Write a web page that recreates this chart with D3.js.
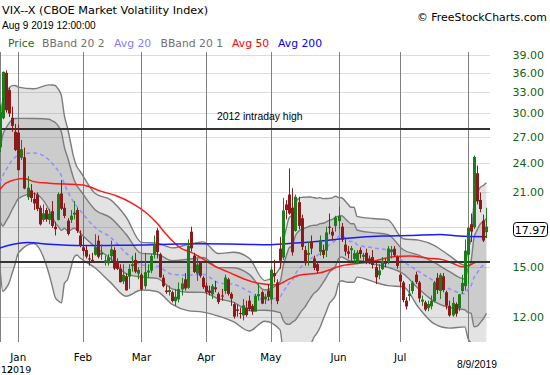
<!DOCTYPE html>
<html>
<head>
<meta charset="utf-8">
<script src="https://cdn.jsdelivr.net/npm/d3@7"></script>
<style>
  body { margin: 0; background: #fff; }
  svg { display: block; }
  text { font-family: "DejaVu Sans", sans-serif; }
</style>
</head>
<body>
<svg></svg>
<script>
const width = 550;
const height = 375;

// trading days shown (Dec 2018 .. Aug 9 2019)
const dates = [
  "12-21","12-24","12-26","12-27","12-28","12-31",
  "01-02","01-03","01-04","01-07","01-08","01-09","01-10","01-11","01-14","01-15","01-16","01-17","01-18","01-22","01-23","01-24","01-25","01-28","01-29","01-30","01-31",
  "02-01","02-04","02-05","02-06","02-07","02-08","02-11","02-12","02-13","02-14","02-15","02-19","02-20","02-21","02-22","02-25","02-26","02-27","02-28",
  "03-01","03-04","03-05","03-06","03-07","03-08","03-11","03-12","03-13","03-14","03-15","03-18","03-19","03-20","03-21","03-22","03-25","03-26","03-27","03-28","03-29",
  "04-01","04-02","04-03","04-04","04-05","04-08","04-09","04-10","04-11","04-12","04-15","04-16","04-17","04-18","04-22","04-23","04-24","04-25","04-26","04-29","04-30",
  "05-01","05-02","05-03","05-06","05-07","05-08","05-09","05-10","05-13","05-14","05-15","05-16","05-17","05-20","05-21","05-22","05-23","05-24","05-28","05-29","05-30","05-31",
  "06-03","06-04","06-05","06-06","06-07","06-10","06-11","06-12","06-13","06-14","06-17","06-18","06-19","06-20","06-21","06-24","06-25","06-26","06-27","06-28",
  "07-01","07-02","07-03","07-05","07-08","07-09","07-10","07-11","07-12","07-15","07-16","07-17","07-18","07-19","07-22","07-23","07-24","07-25","07-26","07-29","07-30","07-31",
  "08-01","08-02","08-05","08-06","08-07","08-08","08-09"
];

const opens = [
  25.8, 29.4, 36.0, 33.3, 29.4, 27.6,
  27.5, 24.6, 24.6, 20.6, 21.2, 20.4, 20.8, 19.6, 18.6, 19.4, 18.6, 19.3, 18.0, 18.6, 20.9, 19.6, 18.5, 18.6, 19.1, 19.4, 17.3,
  16.4, 16.2, 15.6, 15.5, 15.9, 16.9, 15.9, 15.4, 15.3, 15.8, 16.2, 15.4, 14.9, 14.1, 14.4, 14.4, 15.1, 15.5, 14.6,
  14.5, 13.8, 14.7, 14.8, 15.9, 17.7, 15.9, 14.3, 13.5, 13.5, 13.4, 12.9, 13.0, 13.6, 14.2, 13.7, 17.6, 15.8, 14.6, 15.3, 14.3,
  13.8, 13.5, 13.3, 13.7, 13.3, 13.2, 13.5, 14.2, 13.3, 12.7, 12.4, 12.2, 12.1, 12.5, 12.9, 12.6, 12.3, 13.2, 13.4, 13.0, 13.5,
  13.0, 14.6, 14.0, 16.3, 15.7, 19.9, 20.8, 19.6, 17.7, 20.1, 18.7, 16.2, 15.9, 16.8, 15.6, 15.2, 16.1, 16.2, 16.2, 18.0, 17.6, 18.1,
  18.5, 18.0, 16.6, 16.1, 16.3, 15.6, 15.3, 16.2, 15.8, 16.0, 15.6, 15.7, 15.0, 14.5, 14.9, 15.3, 15.4, 16.1, 16.3, 15.7,
  14.5, 14.0, 12.9, 13.2, 13.5, 14.5, 14.0, 12.9, 12.8, 12.5, 12.6, 12.9, 14.3, 13.5, 14.4, 13.4, 12.6, 12.1, 12.7, 12.5, 13.5, 13.8,
  15.9, 18.2, 18.0, 22.9, 20.3, 18.5, 17.6
];

const highs = [
  31.2, 36.2, 36.4, 33.7, 30.9, 28.6,
  28.5, 26.6, 25.7, 22.6, 21.8, 21.0, 21.0, 19.8, 19.9, 19.6, 19.5, 20.2, 18.4, 21.0, 22.2, 20.0, 18.7, 19.4, 20.2, 19.6, 17.7,
  17.2, 16.5, 15.9, 16.0, 17.4, 17.3, 16.6, 15.8, 15.9, 16.9, 16.4, 15.6, 15.2, 15.2, 14.6, 15.2, 15.8, 16.0, 15.0,
  14.6, 16.0, 15.2, 15.9, 17.3, 17.9, 16.0, 14.5, 13.8, 13.8, 13.5, 13.6, 14.0, 14.3, 14.6, 17.0, 18.0, 16.0, 15.6, 15.4, 14.4,
  14.0, 13.8, 13.9, 14.1, 13.4, 13.6, 14.5, 14.3, 13.4, 12.8, 12.7, 12.5, 13.0, 12.9, 13.2, 12.7, 13.3, 13.9, 13.5, 13.3, 13.9,
  15.0, 15.5, 14.2, 17.2, 20.5, 20.3, 23.4, 21.4, 20.8, 20.6, 19.0, 16.5, 16.8, 17.3, 15.8, 15.3, 17.3, 16.6, 18.0, 19.1, 17.9, 18.9,
  19.7, 18.3, 17.0, 16.5, 16.5, 16.2, 16.2, 16.4, 16.0, 16.3, 15.8, 16.2, 15.3, 15.2, 15.7, 15.6, 16.5, 16.5, 16.5, 15.8,
  14.6, 14.1, 13.1, 13.9, 14.1, 14.7, 14.1, 13.2, 12.9, 12.9, 13.2, 14.1, 14.6, 14.6, 14.6, 13.5, 12.9, 13.1, 12.8, 13.3, 14.5, 17.0,
  18.0, 19.1, 24.8, 23.7, 21.0, 19.0, 19.6
];

const lows = [
  25.2, 29.2, 30.1, 29.5, 27.6, 25.3,
  23.2, 24.3, 21.3, 20.3, 20.1, 19.4, 19.3, 18.1, 18.4, 18.4, 18.2, 17.9, 17.3, 18.5, 19.4, 18.7, 17.3, 18.3, 18.6, 17.5, 16.4,
  15.8, 15.6, 15.1, 15.3, 15.8, 15.6, 15.5, 15.1, 15.1, 15.4, 14.8, 14.8, 14.0, 13.9, 13.5, 13.6, 14.7, 14.6, 14.2,
  13.5, 13.6, 14.3, 14.6, 15.6, 15.6, 14.3, 13.7, 13.3, 13.2, 12.8, 12.6, 12.8, 13.2, 13.5, 13.6, 16.1, 14.6, 14.1, 14.3, 13.6,
  13.3, 13.2, 13.0, 13.4, 12.7, 12.9, 13.3, 13.2, 12.6, 11.9, 12.0, 11.9, 11.8, 12.0, 12.3, 12.1, 12.3, 12.9, 12.7, 12.7, 12.9,
  12.7, 14.0, 12.7, 14.9, 15.5, 18.6, 19.0, 15.8, 17.6, 17.8, 16.2, 15.1, 15.1, 15.9, 14.8, 14.6, 15.8, 15.6, 15.7, 17.4, 16.9, 17.6,
  17.8, 16.8, 15.8, 15.6, 15.4, 15.2, 15.2, 15.6, 15.4, 15.2, 15.2, 14.9, 13.9, 14.2, 14.8, 15.0, 15.2, 15.6, 15.7, 14.9,
  13.7, 12.8, 12.4, 12.9, 13.3, 13.9, 12.8, 12.6, 12.3, 12.3, 12.4, 12.8, 13.3, 13.0, 13.4, 12.4, 12.0, 12.0, 12.0, 12.3, 13.3, 13.5,
  13.9, 16.8, 17.8, 19.9, 19.2, 16.8, 17.1
];

const closes = [
  30.11, 36.07, 30.41, 29.96, 28.34, 25.42,
  23.22, 25.45, 21.38, 21.40, 20.47, 19.98, 19.50, 18.19, 19.07, 18.60, 19.04, 18.06, 17.80, 20.80, 19.52, 18.89, 17.42, 18.87, 19.13, 17.66, 16.57,
  16.14, 15.73, 15.57, 15.38, 16.37, 15.72, 15.97, 15.43, 15.65, 16.22, 14.91, 14.88, 14.02, 14.46, 13.51, 14.85, 15.17, 14.70, 14.78,
  13.57, 14.63, 14.74, 15.74, 16.59, 16.05, 14.33, 13.77, 13.41, 13.50, 12.88, 13.10, 13.56, 13.91, 13.63, 16.48, 16.33, 14.68, 15.15, 14.43, 13.71,
  13.40, 13.36, 13.74, 13.58, 12.82, 13.18, 14.28, 13.30, 13.02, 12.01, 12.32, 12.18, 12.60, 12.09, 12.42, 12.28, 13.14, 13.25, 12.73, 13.11, 13.12,
  14.80, 14.42, 12.87, 15.44, 19.32, 19.40, 19.10, 16.04, 20.55, 18.06, 16.44, 15.29, 15.96, 16.31, 14.95, 14.75, 16.92, 15.85, 17.50, 17.90, 17.30, 18.71,
  18.86, 16.97, 16.09, 15.93, 16.30, 15.94, 15.99, 15.91, 15.82, 15.28, 15.35, 15.15, 14.33, 14.75, 15.40, 15.26, 16.28, 16.21, 15.82, 15.08,
  14.06, 12.93, 12.57, 13.28, 13.96, 14.02, 13.03, 12.93, 12.39, 12.68, 12.86, 13.97, 13.53, 14.45, 13.53, 12.61, 12.07, 12.74, 12.16, 13.24, 13.94, 16.12,
  17.87, 17.61, 24.59, 20.17, 19.49, 16.91, 17.97
];

// Bollinger bands (20 day) and their middle line, read at these days
const bandDates = [
  "12-21","12-24","12-26","12-27","12-28","12-31","01-02","01-09","01-16","01-17","01-18","01-22","01-23","01-24","01-25","01-28","01-29","01-30","01-31",
  "02-07","02-14","02-22","03-01","03-08","03-15","03-22","03-29","04-05","04-12","04-22","04-29",
  "05-06","05-07","05-08","05-09","05-10","05-13","05-14","05-15","05-16","05-17","05-20","05-21","05-22","05-23","05-24","05-28","05-29","05-30","05-31",
  "06-03","06-04","06-05","06-06","06-07","06-10","06-11","06-18","06-25","07-02","07-10","07-17","07-24","07-31",
  "08-01","08-02","08-05","08-06","08-07","08-08","08-09"
];
const avg20 = [
  21.94, 22.66, 23.24, 23.79, 24.28, 24.61, 24.87, 25.09, 24.31, 23.93, 23.54, 23.16, 22.63, 21.78, 21.13, 20.57, 20.11, 19.72, 19.39,
  17.92, 17.15, 15.98, 15.15, 15.08, 14.52, 14.47, 14.53, 13.99, 13.88, 13.43, 12.94,
  13.13, 13.44, 13.69, 13.98, 14.13, 14.56, 14.85, 15.06, 15.19, 15.39, 15.58, 15.72, 15.80, 15.98, 16.14, 16.35, 16.59, 16.72, 16.93,
  17.23, 17.31, 17.15, 16.97, 16.83, 16.83, 16.60, 16.37, 16.18, 15.39, 14.72, 14.09, 13.60, 13.30,
  13.57, 13.79, 14.32, 14.62, 14.95, 15.15, 15.43
];
const upper2 = [
  28.76, 31.86, 32.84, 33.61, 33.98, 33.99, 33.75, 33.49, 34.09, 34.07, 34.00, 33.44, 32.49, 29.60, 28.07, 26.27, 24.59, 23.60, 23.13,
  20.90, 20.31, 18.80, 16.77, 16.72, 16.36, 16.61, 16.81, 15.95, 16.04, 15.61, 14.12,
  14.95, 16.70, 17.85, 18.76, 18.97, 20.04, 20.43, 20.54, 20.55, 20.57, 20.58, 20.50, 20.46, 20.52, 20.42, 20.43, 20.45, 20.50, 20.65,
  20.53, 20.51, 20.25, 19.93, 19.65, 19.65, 18.86, 18.67, 18.56, 17.05, 16.94, 16.55, 15.80, 15.14,
  16.25, 16.99, 20.02, 20.86, 21.49, 21.67, 21.93
];
const upper1 = [
  25.35, 27.26, 28.04, 28.70, 29.13, 29.30, 29.31, 29.29, 29.20, 29.00, 28.77, 28.30, 27.56, 25.69, 24.60, 23.42, 22.35, 21.66, 21.26,
  19.41, 18.73, 17.39, 15.96, 15.90, 15.44, 15.54, 15.67, 14.97, 14.96, 14.52, 13.53,
  14.04, 15.07, 15.77, 16.37, 16.55, 17.30, 17.64, 17.80, 17.87, 17.98, 18.08, 18.11, 18.13, 18.25, 18.28, 18.39, 18.52, 18.61, 18.79,
  18.88, 18.91, 18.70, 18.45, 18.24, 18.24, 17.73, 17.52, 17.37, 16.22, 15.83, 15.32, 14.70, 14.22,
  14.91, 15.39, 17.17, 17.74, 18.22, 18.41, 18.68
];
const lower1 = [
  18.53, 18.06, 18.44, 18.88, 19.43, 19.92, 20.43, 20.89, 19.42, 18.86, 18.31, 18.02, 17.70, 17.87, 17.66, 17.72, 17.87, 17.78, 17.52,
  16.43, 15.57, 14.57, 14.34, 14.26, 13.60, 13.40, 13.39, 13.01, 12.80, 12.34, 12.35,
  12.22, 11.81, 11.61, 11.59, 11.71, 11.82, 12.06, 12.32, 12.51, 12.80, 13.08, 13.33, 13.47, 13.71, 14.00, 14.31, 14.66, 14.83, 15.07,
  15.58, 15.71, 15.60, 15.49, 15.42, 15.42, 15.47, 15.22, 14.99, 14.56, 13.61, 12.86, 12.50, 12.38,
  12.23, 12.19, 11.47, 11.50, 11.68, 11.89, 12.18
];
const lower2 = [
  15.12, 13.46, 13.64, 13.97, 14.58, 15.23, 15.99, 16.69, 14.53, 13.79, 13.08, 12.88, 12.77, 13.96, 14.19, 14.87, 15.63, 15.84, 15.65,
  14.94, 13.99, 13.16, 13.53, 13.44, 12.68, 12.33, 12.25, 12.03, 11.72, 11.25, 11.76,
  11.31, 10.18, 9.53, 9.20, 9.29, 9.08, 9.27, 9.58, 9.83, 10.21, 10.58, 10.94, 11.14, 11.44, 11.86, 12.27, 12.73, 12.94, 13.21,
  13.93, 14.11, 14.05, 14.01, 14.01, 14.01, 14.34, 14.07, 13.80, 13.73, 12.50, 11.63, 11.40, 11.46,
  10.89, 10.59, 8.62, 8.38, 8.41, 8.63, 8.93
];

// 50 day average
const avg50Dates = [
  "12-21","12-26","01-04","01-09","01-16","02-01","02-11","02-19","02-26","03-05","03-08","03-13","03-20","03-25","03-28",
  "04-03","04-11","04-18","04-25","05-03","05-08","05-14","05-23","06-04","06-17","06-27","07-05","07-15","07-22","07-25","07-30",
  "08-01","08-06","08-09"
];
const avg50 = [
  21.24, 21.9, 22.35, 22.05, 21.9, 21.72, 21.1, 20.67, 20.0, 19.06, 18.3, 17.4, 16.3, 16.05, 15.70,
  15.15, 14.6, 14.17, 13.95, 13.84, 14.12, 14.45, 14.62, 15.1, 15.35, 15.72, 15.77, 15.62, 15.5, 15.27, 15.03,
  15.1, 15.35, 15.37
];

// 200 day average
const avg200Dates = [
  "12-21","12-27","01-07","01-16","02-01","02-19","03-07","03-28","04-16","04-30",
  "05-09","05-20","05-28","06-06","06-12","06-21","07-05","07-19","07-29","08-09"
];
const avg200 = [
  16.35, 16.55, 16.76, 16.63, 16.54, 16.55, 16.6, 16.66, 16.63, 16.59,
  16.69, 16.80, 16.91, 17.08, 17.16, 17.26, 17.30, 17.38, 17.26, 17.21
];

const priceTicks = [12, 15, 18, 21, 24, 27, 30, 33, 36, 39];
const monthDates = ["01-02", "02-01", "03-01", "04-01", "05-01", "06-03", "07-01", "08-01"];
const monthLabels = ["Jan", "Feb", "Mar", "Apr", "May", "Jun", "Jul", ""];
const refLevels = [27.9, 15.35];
const lastClose = 17.97;

const plotRight = 490;
const plotTop = 52;
const plotBottom = 342;

const svg = d3.select("svg")
  .attr("width", width)
  .attr("height", height);

const x = d3.scalePoint()
  .domain(dates)
  .range([-0.2, 486.4]);

const y = d3.scaleLog()
  .domain([12, 39])
  .range([316.7, 55]);

svg.append("defs").append("clipPath")
  .attr("id", "plot-clip")
  .append("rect")
  .attr("x", 0)
  .attr("y", plotTop)
  .attr("width", plotRight)
  .attr("height", plotBottom - plotTop);

const plot = svg.append("g").attr("clip-path", "url(#plot-clip)");

// horizontal grid
plot.selectAll("line.hgrid")
  .data(priceTicks)
  .join("line")
  .attr("class", "hgrid")
  .attr("x1", 0)
  .attr("x2", plotRight)
  .attr("y1", d => Math.round(y(d)) + 0.5)
  .attr("y2", d => Math.round(y(d)) + 0.5)
  .attr("stroke", "#dcdcdc")
  .attr("stroke-width", 1);

// month lines
plot.selectAll("line.vgrid")
  .data(monthDates)
  .join("line")
  .attr("class", "vgrid")
  .attr("x1", d => Math.round(x(d)) + 0.5)
  .attr("x2", d => Math.round(x(d)) + 0.5)
  .attr("y1", plotTop)
  .attr("y2", plotBottom)
  .attr("stroke", "#808080")
  .attr("stroke-width", 1);

plot.append("line")
  .attr("x1", 0.5).attr("x2", 0.5)
  .attr("y1", plotTop).attr("y2", plotBottom)
  .attr("stroke", "#808080");

// bands
const bandRows = bandDates.map(function(d, i) {
  return { date: d, u2: upper2[i], u1: upper1[i], m: avg20[i], l1: lower1[i], l2: lower2[i] };
});

function bandArea(hi, lo) {
  return d3.area()
    .x(d => x(d.date))
    .y0(d => y(d[lo]))
    .y1(d => y(d[hi]))
    .curve(d3.curveMonotoneX);
}

function seriesLine(key) {
  return d3.line()
    .x(d => x(d.date))
    .y(d => y(d[key]))
    .curve(d3.curveMonotoneX);
}

plot.append("path")
  .datum(bandRows)
  .attr("d", bandArea("u2", "l2"))
  .attr("fill", "rgba(115,115,115,0.2)");

plot.append("path")
  .datum(bandRows)
  .attr("d", bandArea("u1", "l1"))
  .attr("fill", "rgba(115,115,115,0.2)");

["u2", "l2", "u1", "l1"].forEach(function(key) {
  plot.append("path")
    .datum(bandRows)
    .attr("d", seriesLine(key))
    .attr("fill", "none")
    .attr("stroke", "#7c7c7c")
    .attr("stroke-width", 1.4);
});

plot.append("path")
  .datum(bandRows)
  .attr("d", seriesLine("m"))
  .attr("fill", "none")
  .attr("stroke", "#8f8fff")
  .attr("stroke-width", 1.5)
  .attr("stroke-dasharray", "4,3");

// moving averages
const avg50Rows = avg50Dates.map((d, i) => ({ date: d, v: avg50[i] }));
const avg200Rows = avg200Dates.map((d, i) => ({ date: d, v: avg200[i] }));

plot.append("path")
  .datum(avg50Rows)
  .attr("d", seriesLine("v"))
  .attr("fill", "none")
  .attr("stroke", "#ff1a1a")
  .attr("stroke-width", 1.5);

plot.append("path")
  .datum(avg200Rows)
  .attr("d", seriesLine("v"))
  .attr("fill", "none")
  .attr("stroke", "#1a1aff")
  .attr("stroke-width", 1.5);

// horizontal reference lines
plot.selectAll("line.ref")
  .data(refLevels)
  .join("line")
  .attr("class", "ref")
  .attr("x1", 0)
  .attr("x2", plotRight)
  .attr("y1", d => Math.round(y(d)))
  .attr("y2", d => Math.round(y(d)))
  .attr("stroke", "#333333")
  .attr("stroke-width", 2.2);

// candles
const candles = dates.map(function(d, i) {
  return { date: d, o: opens[i], h: highs[i], l: lows[i], c: closes[i] };
});
const upColor = "#1c7c1c";
const downColor = "#8b1a1a";

const candle = plot.selectAll("g.candle")
  .data(candles)
  .join("g")
  .attr("class", "candle");

candle.append("line")
  .attr("x1", d => Math.round(x(d.date)) + 0.5)
  .attr("x2", d => Math.round(x(d.date)) + 0.5)
  .attr("y1", d => y(d.h))
  .attr("y2", d => y(d.l))
  .attr("stroke", d => d.c >= d.o ? upColor : downColor)
  .attr("stroke-width", 1);

candle.append("rect")
  .attr("x", d => d.c >= d.o ? Math.round(x(d.date)) - 0.5 : Math.round(x(d.date)) - 1)
  .attr("width", d => d.c >= d.o ? 2 : 3)
  .attr("y", d => y(Math.max(d.o, d.c)))
  .attr("height", d => Math.max(1, y(Math.min(d.o, d.c)) - y(Math.max(d.o, d.c))))
  .attr("fill", d => d.c >= d.o ? "none" : downColor)
  .attr("stroke", d => d.c >= d.o ? upColor : "none")
  .attr("stroke-width", 1);

// right axis
svg.selectAll("text.ylab")
  .data(priceTicks.filter(v => v !== 18))
  .join("text")
  .attr("class", "ylab")
  .attr("x", 544)
  .attr("y", d => y(d) + 4)
  .attr("text-anchor", "end")
  .attr("font-size", 11)
  .attr("fill", "#0f650f")
  .text(d => d.toFixed(2));

svg.append("rect")
  .attr("x", 513.5)
  .attr("y", 222.5)
  .attr("width", 34)
  .attr("height", 14)
  .attr("rx", 3)
  .attr("fill", "#fff")
  .attr("stroke", "#000");

svg.append("text")
  .attr("x", 530.5)
  .attr("y", 233.5)
  .attr("text-anchor", "middle")
  .attr("font-size", 11)
  .attr("fill", "#000")
  .text(lastClose.toFixed(2));

// month labels
svg.selectAll("text.month")
  .data(monthDates.filter((d, i) => monthLabels[i]))
  .join("text")
  .attr("class", "month")
  .attr("x", d => x(d))
  .attr("y", 361)
  .attr("text-anchor", "middle")
  .attr("font-size", 10.3)
  .attr("fill", "#000")
  .text(d => monthLabels[monthDates.indexOf(d)]);

svg.append("text")
  .attr("x", 477)
  .attr("y", 367.5)
  .attr("text-anchor", "middle")
  .style("font-family", "'Liberation Sans', sans-serif")
  .attr("font-size", 10.3)
  .text("8/9/2019");

// first-day stamp, drawn over the year as in the source
svg.append("text")
  .attr("x", 7)
  .attr("y", 373)
  .attr("font-size", 9.5)
  .text("2019");

svg.append("text")
  .attr("x", 1)
  .attr("y", 373)
  .attr("font-size", 9.5)
  .text("12");

// reference line note
svg.append("text")
  .attr("x", 217)
  .attr("y", 119.5)
  .style("font-family", "'Liberation Sans', sans-serif")
  .attr("font-size", 10.4)
  .text("2012 intraday high");

// header
svg.append("text")
  .attr("x", 2)
  .attr("y", 13.5)
  .attr("font-size", 11.25)
  .text("VIX--X (CBOE Market Volatility Index)");

svg.append("text")
  .attr("x", 2)
  .attr("y", 28.5)
  .style("font-family", "'Liberation Sans', sans-serif")
  .attr("font-size", 10.1)
  .text("Aug 9 2019 12:00:00");

svg.append("text")
  .attr("x", 417)
  .attr("y", 21)
  .attr("font-size", 10.9)
  .text("\u00a9 FreeStockCharts.com");

const legendNames = ["Price", "BBand 20 2", "Avg 20", "BBand 20 1", "Avg 50", "Avg 200"];
const legendColors = ["#1d6e1d", "#707070", "#8080ff", "#707070", "#ff0000", "#0000ff"];
const legendX = [8, 42, 114, 160.5, 232, 278];

svg.selectAll("text.legend")
  .data(legendNames)
  .join("text")
  .attr("class", "legend")
  .attr("x", (d, i) => legendX[i])
  .attr("y", 47)
  .attr("font-size", 10.8)
  .attr("fill", (d, i) => legendColors[i])
  .text(d => d);
</script>
</body>
</html>
